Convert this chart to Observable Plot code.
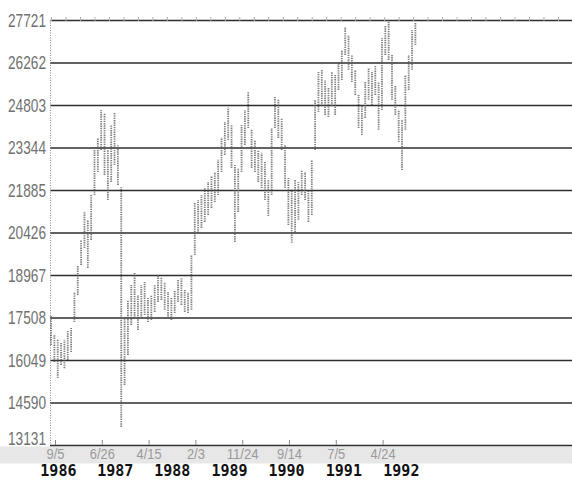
<!DOCTYPE html>
<html>
<head>
<meta charset="utf-8">
<script src="https://cdn.jsdelivr.net/npm/d3@7"></script>
<script src="https://cdn.jsdelivr.net/npm/@observablehq/plot@0.6"></script>
<style>
  html, body { margin: 0; padding: 0; }
  body {
    width: 572px; height: 481px; overflow: hidden;
    background: linear-gradient(to bottom, #fff 0, #fff 446px, #e7e7e7 447px, #e7e7e7 463px, #fff 464px, #fff 100%);
  }
  #chart svg { display: block; }
</style>
</head>
<body>
<div id="chart"></div>
<script>
// Price scale: gridlines every 1459 points
const yTicks = [13131, 14590, 16049, 17508, 18967, 20426, 21885, 23344, 24803, 26262, 27721];

// Horizontal axis is counted in trading sessions from 9/5/1986; a date label every 210 sessions
const dateTickDays = [0, 210, 420, 630, 840, 1050, 1260, 1470];
const dateTickLabels = ["9/5", "6/26", "4/15", "2/3", "11/24", "9/14", "7/5", "4/24"];
const yearDays = [13, 268, 524, 781, 1037, 1294, 1552];
const yearLabels = ["1986", "1987", "1988", "1989", "1990", "1991", "1992"];
const sessionRange = [-22.4, 2320];

// High/low of each three-week block (15 sessions), starting 20 sessions before 9/5/1986
const barSpan = 15;
const firstBarDay = -20;
const high = [
  17560, 16910, 16740, 16630, 16740, 17080, 17150, 18380, 19310, 20170,
  21130, 20860, 21710, 23260, 23670, 24630, 24530, 23260, 24120, 24530,
  23430, 21990, 17490, 18110, 18620, 19040, 18280, 18620, 18730, 18180,
  18280, 18620, 18970, 18900, 18730, 18380, 18180, 18450, 18800, 18860,
  18450, 18380, 19650, 21440, 21540, 21710, 21950, 22160, 22370, 22500,
  22920, 23700, 24220, 24730, 24120, 22740, 22640, 24120, 24630, 25250,
  23950, 23600, 23260, 23160, 22850, 22230, 24010, 25080, 24980, 24360,
  23430, 22300, 21890, 22230, 22160, 22570, 22500, 21890, 22920, 24980,
  25940, 26010, 25660, 25390, 25940, 25830, 26280, 26690, 27480, 27210,
  26520, 26010, 25150, 24800, 25590, 26070, 25940, 26180, 25590, 27100,
  27550, 27720, 26520, 25490, 24630, 24290, 25830, 26520, 27380, 27650
];
const low = [
  16560, 15980, 15430, 15880, 15770, 16050, 16320, 17350, 18280, 19310,
  19890, 19210, 20170, 21710, 22500, 23260, 22400, 21540, 22160, 22740,
  22060, 13750, 15190, 16220, 17250, 17490, 17080, 17490, 17590, 17350,
  17420, 17700, 18040, 18110, 17770, 17490, 17420, 17660, 18040, 17940,
  17700, 17660, 17770, 19650, 20410, 20580, 20790, 21030, 21270, 21470,
  21710, 22500, 23090, 23600, 22640, 20100, 21130, 22500, 23430, 24010,
  22640, 22500, 22160, 21950, 21540, 20990, 21710, 24010, 23670, 23260,
  21950, 20680, 20070, 20440, 20860, 21710, 21540, 20790, 21030, 23260,
  24560, 24770, 24460, 24390, 24770, 24460, 25320, 25660, 26520, 26010,
  25590, 25150, 24010, 23770, 24360, 24980, 24800, 25150, 23950, 24630,
  26520, 26350, 24980, 24460, 23530, 22570, 23950, 25320, 26010, 26860
];

const bars = high.map((h, i) => ({day: firstBarDay + i * barSpan, high: h, low: low[i]}));
const years = yearLabels.map((label, i) => ({label, day: yearDays[i]}));
// faint quarterly ticks along the top edge (every 65 sessions)
const quarterDays = d3.range(-18, sessionRange[1], 65);

const chart = Plot.plot({
  width: 572,
  height: 481,
  marginLeft: 50,
  marginRight: 0,
  marginTop: 20,
  marginBottom: 36,
  style: {background: "transparent", overflow: "visible"},
  x: {domain: sessionRange, label: null},
  y: {domain: [yTicks[0], yTicks[yTicks.length - 1]], label: null},
  marks: [
    Plot.ruleY(yTicks, {stroke: "#2e2e2e", strokeWidth: 1.5}),
    Plot.ruleX([sessionRange[0]], {stroke: "#8a8a8a", strokeWidth: 1, strokeDasharray: "1 1.5"}),
    Plot.ruleX(bars, {
      x: "day", y1: "low", y2: "high",
      stroke: "#555", strokeWidth: 1.8, strokeDasharray: "1.4 0.9", strokeOpacity: 0.75
    }),
    Plot.axisY({
      ticks: yTicks, tickSize: 0, tickPadding: 4.5, label: null,
      tickFormat: d => String(d),
      fontSize: 19, fill: "#707070",
      fontFamily: "'Liberation Sans Narrow', 'Liberation Sans', sans-serif"
    }),
    Plot.axisX({
      ticks: dateTickDays, tickSize: 0, tickPadding: 2, label: null,
      tickFormat: d => dateTickLabels[dateTickDays.indexOf(d)],
      fontSize: 15.5, fill: "#9a9a9a",
      fontFamily: "'Liberation Sans Narrow', 'Liberation Sans', sans-serif"
    }),
    Plot.axisX({
      ticks: dateTickDays, tickSize: 5, dy: -5, label: null,
      tickFormat: () => "", stroke: "#8a8a8a"
    }),
    Plot.axisX({
      anchor: "top", ticks: quarterDays, tickSize: 4, label: null,
      tickFormat: () => "", stroke: "#b0b0b0"
    }),
    Plot.text(years, {
      x: "day", text: "label", frameAnchor: "bottom", dy: 30,
      fontSize: 15, fontWeight: "bold", fill: "#111",
      fontFamily: "'DejaVu Sans Mono', monospace"
    })
  ]
});

// squeeze the thin axis figures to the narrow widths of the printed labels
chart.querySelectorAll('[aria-label="y-axis tick label"] text').forEach(t => {
  if (!t.textContent) return;
  t.setAttribute("textLength", 38);
  t.setAttribute("lengthAdjust", "spacingAndGlyphs");
  // the lowest price label sits just above the baseline, clear of the date row
  if (t.textContent === String(yTicks[0])) {
    const tr = t.getAttribute("transform");
    t.setAttribute("transform", (tr ? tr + " " : "") + "translate(0,-7)");
  }
});
chart.querySelectorAll('[aria-label="x-axis tick label"] text').forEach(t => {
  const s = t.textContent;
  if (!s) return;
  const digits = s.replace(/\D/g, "").length;
  const slashes = s.length - digits;
  t.setAttribute("textLength", digits * 7 + slashes * 4);
  t.setAttribute("lengthAdjust", "spacingAndGlyphs");
});

document.getElementById("chart").appendChild(chart);
</script>
</body>
</html>
